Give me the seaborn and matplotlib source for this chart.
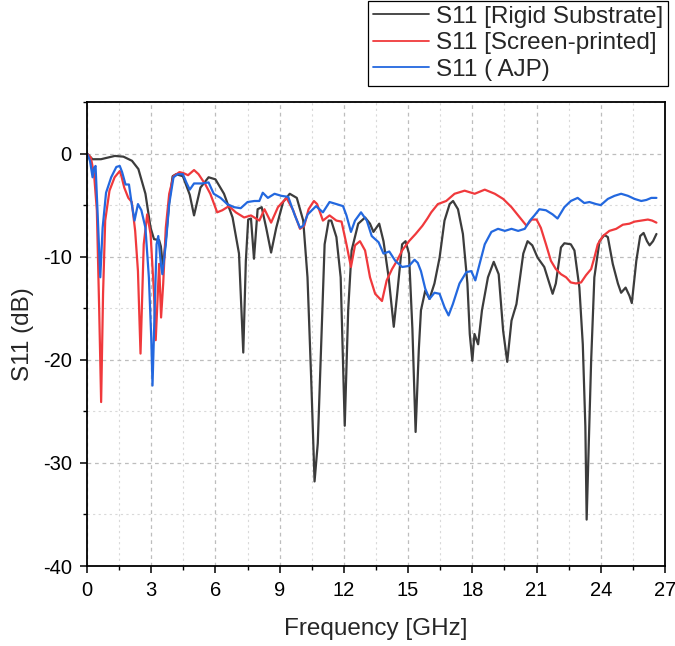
import numpy as np
import pandas as pd
import matplotlib
matplotlib.use("Agg")
import matplotlib.pyplot as plt
from matplotlib.ticker import MultipleLocator
import seaborn as sns

# ---------------- data ----------------
labels = ["S11 [Rigid Substrate]", "S11 [Screen-printed]", "S11 ( AJP)"]
colors = ["#3c3c3c", "#f0393c", "#2368df"]

freq_rigid = [0, 0.26, 0.65, 1.3, 1.7, 2.1, 2.4, 2.73, 2.97, 3.13, 3.37, 3.45, 3.55, 3.7, 3.85,
              4.0, 4.16, 4.48, 4.8, 5.0, 5.3, 5.68, 6.0, 6.4, 6.8, 7.1, 7.3, 7.42, 7.53, 7.66,
              7.8, 7.97, 8.16, 8.37, 8.6, 8.84, 9.16, 9.47, 9.8, 10.1, 10.3, 10.47, 10.63, 10.78,
              10.94, 11.1, 11.29, 11.41, 11.65, 11.85, 12.04, 12.2, 12.36, 12.67, 12.99, 13.22,
              13.38, 13.65, 13.85, 14.09, 14.33, 14.49, 14.72, 14.88, 15.04, 15.2, 15.35, 15.5,
              15.6, 15.8, 16.0, 16.23, 16.47, 16.7, 16.94, 17.1, 17.33, 17.56, 17.77, 17.88, 18.0,
              18.1, 18.27, 18.45, 18.73, 19.0, 19.23, 19.44, 19.63, 19.83, 20.06, 20.38, 20.58,
              20.8, 21.05, 21.36, 21.6, 21.75, 21.9, 22.14, 22.3, 22.6, 22.77, 23.0, 23.16, 23.28,
              23.34, 23.44, 23.55, 23.7, 23.94, 24.17, 24.33, 24.56, 24.8, 24.95, 25.16, 25.34,
              25.45, 25.66, 25.84, 26.0, 26.16, 26.28, 26.44, 26.6]
s11_rigid = [0, -0.55, -0.55, -0.23, -0.3, -0.7, -1.5, -3.9, -7.2, -8.3, -8.4, -9.0, -11.0, -8.0, -4.5,
             -2.2, -2.0, -2.2, -4.0, -6.0, -3.3, -2.3, -2.5, -3.9, -6.2, -9.7, -19.3, -10.4, -6.4, -6.3,
             -10.2, -5.4, -5.2, -7.2, -9.6, -7.2, -4.7, -3.9, -4.3, -6.5, -12.0, -21.7, -31.8, -28.1,
             -18.5, -8.8, -6.5, -6.5, -8.1, -12.0, -26.4, -15.2, -9.4, -6.8, -6.2, -6.8,
             -7.6, -6.8, -8.5, -12.0, -16.8, -13.6, -8.8, -8.5, -9.7, -17.0, -27.0, -19.0,
             -15.2, -13.3, -14.1, -12.6, -10.1, -6.5, -4.9, -4.6, -5.4, -7.8, -12.6, -17.5, -20.1,
             -17.5, -18.5, -15.2, -12.0, -10.5, -11.7, -17.2, -20.2, -16.2, -14.6, -9.7, -8.5,
             -8.9, -10.1, -11.0, -12.6, -13.6, -12.6, -9.1, -8.7, -8.8, -9.4, -13.0, -18.5, -26.5,
             -35.5, -28.1, -20.1, -12.0, -8.5, -7.9, -8.1, -10.7, -12.6, -13.5, -13.0, -13.8,
             -14.5, -10.4, -8.0, -7.7, -8.5, -8.9, -8.5, -7.8]

freq_screen = [0, 0.18, 0.33, 0.46, 0.57, 0.66, 0.75, 0.85, 1.05, 1.29, 1.53, 1.61, 1.74, 1.93, 2.09,
               2.25, 2.38, 2.5, 2.65, 2.81, 2.97, 3.13, 3.21, 3.32, 3.37, 3.46, 3.56, 3.68, 3.84,
               4.04, 4.32, 4.51, 4.72, 5.0, 5.21, 5.53, 5.76, 6.08, 6.32, 6.63, 6.95, 7.34, 7.66,
               8.05, 8.29, 8.6, 8.92, 9.32, 9.63, 9.95, 10.15, 10.35, 10.6, 10.75, 11.02, 11.33,
               11.65, 11.89, 12.12, 12.33, 12.52, 12.75, 12.99, 13.22, 13.46, 13.78, 14.0, 14.25,
               14.48, 14.72, 15.04, 15.35, 15.67, 15.9, 16.08, 16.39, 16.78, 17.17, 17.64, 18.11,
               18.58, 19.05, 19.44, 19.83, 20.14, 20.53, 20.77, 21.0, 21.2, 21.44, 21.67, 21.9,
               22.14, 22.38, 22.6, 22.84, 23.08, 23.31, 23.55, 23.7, 23.86, 24.1, 24.4, 24.72,
               25.03, 25.34, 25.58, 25.89, 26.2, 26.4, 26.6]
s11_screen = [0, -0.4, -2.0, -5.5, -15.2, -24.1, -13.6, -6.5, -3.6, -2.3, -1.7, -2.2, -3.3, -4.3, -4.7,
              -7.5, -11.4, -19.4, -8.8, -5.9, -7.8, -13.6, -18.1, -13.0, -10.7, -15.9, -12.6, -7.2, -3.9,
              -2.2, -1.8, -1.9, -2.1, -1.6, -2.0, -3.0, -3.9, -5.7, -5.5, -5.1, -5.7, -6.2, -6.0,
              -6.5, -5.4, -6.7, -5.2, -4.3, -5.5, -7.3, -7.0, -5.4, -4.6, -4.9, -6.5, -6.0,
              -6.5, -6.6, -8.8, -11.0, -8.9, -8.5, -9.4, -12.0, -13.6, -14.3, -12.3, -11.2,
              -10.4, -9.4, -8.5, -7.8, -7.0, -6.3, -5.7, -4.9, -4.6, -3.9, -3.6, -3.9,
              -3.5, -3.9, -4.4, -5.2, -6.0, -7.0, -6.4, -6.4, -7.2, -8.8, -10.4, -11.2,
              -11.7, -12.0, -12.5, -12.6, -12.5, -11.8, -11.2, -10.1, -8.8, -8.0, -7.5, -7.3,
              -6.9, -6.8, -6.6, -6.5, -6.4, -6.5, -6.7]

freq_ajp = [0, 0.14, 0.26, 0.33, 0.4, 0.5, 0.62, 0.73, 0.89, 1.13, 1.37, 1.53, 1.64, 1.8, 1.96,
            2.09, 2.22, 2.38, 2.54, 2.73, 2.89, 3.0, 3.06, 3.16, 3.25, 3.33, 3.45, 3.52, 3.68,
            3.84, 4.04, 4.24, 4.48, 4.64, 4.8, 5.0, 5.37, 5.68, 5.92, 6.24, 6.55, 6.87, 7.18,
            7.5, 7.82, 8.05, 8.21, 8.45, 8.76, 9.08, 9.4, 9.71, 9.95, 10.1, 10.31, 10.7, 11.02,
            11.33, 11.65, 11.96, 12.12, 12.33, 12.52, 12.8, 13.07, 13.3, 13.62, 13.85, 14.12,
            14.4, 14.72, 15.04, 15.3, 15.45, 15.6, 15.8, 16.0, 16.23, 16.47, 16.7, 16.89, 17.09,
            17.4, 17.72, 17.95, 18.14, 18.34, 18.58, 18.89, 19.2, 19.52, 19.83, 20.14, 20.45,
            20.69, 20.9, 21.13, 21.44, 21.75, 21.98, 22.3, 22.6, 22.92, 23.23, 23.47, 23.78,
            24.0, 24.33, 24.64, 24.95, 25.27, 25.58, 25.89, 26.13, 26.36, 26.6]
s11_ajp = [0, -0.7, -2.3, -1.4, -1.2, -6.0, -12.0, -7.2, -3.8, -2.3, -1.3, -1.2, -1.8, -3.0, -3.0,
           -4.9, -6.5, -4.9, -5.5, -7.2, -12.0, -17.8, -22.5, -15.2, -8.8, -8.0, -10.7, -11.7, -8.8,
           -4.9, -2.3, -2.0, -2.0, -2.8, -3.5, -2.9, -2.9, -2.8, -3.9, -4.3, -4.9, -5.2, -5.3,
           -4.7, -4.6, -4.6, -3.8, -4.3, -3.9, -4.1, -4.2, -6.0, -7.2, -7.0, -5.9, -5.1, -5.7,
           -4.7, -4.9, -5.1, -6.0, -7.6, -6.5, -5.7, -6.5, -8.0, -8.6, -9.7, -9.5,
           -10.4, -11.0, -10.9, -10.3, -10.6, -11.4, -13.1, -14.1, -13.5, -13.6, -14.9, -15.7, -14.6,
           -12.6, -11.5, -11.4, -12.3, -10.7, -8.8, -7.6, -7.3, -7.5, -7.3, -7.5, -7.3,
           -6.5, -6.0, -5.4, -5.5, -5.9, -6.3, -5.2, -4.6, -4.3, -4.8, -4.7, -4.9,
           -5.0, -4.4, -4.1, -3.9, -4.1, -4.4, -4.6, -4.5, -4.3, -4.3]

x_ticks = [0, 3, 6, 9, 12, 15, 18, 21, 24, 27]
y_ticks = [-40, -30, -20, -10, 0]

# ---------------- build long table ----------------
df = pd.concat([
    pd.DataFrame({"Frequency": freq_rigid, "S11": s11_rigid, "Series": labels[0]}),
    pd.DataFrame({"Frequency": freq_screen, "S11": s11_screen, "Series": labels[1]}),
    pd.DataFrame({"Frequency": freq_ajp, "S11": s11_ajp, "Series": labels[2]}),
], ignore_index=True)

sns.set_theme(style="ticks")
plt.rcParams["font.family"] = ["Liberation Sans", "DejaVu Sans"]
plt.rcParams["axes.unicode_minus"] = False

fig = plt.figure(figsize=(6.75, 6.46), dpi=100)
ax = fig.add_axes([87 / 675, 1 - 566 / 646, (665 - 87) / 675, (566 - 102) / 646])

sns.lineplot(data=df, x="Frequency", y="S11", hue="Series", hue_order=labels,
             palette=dict(zip(labels, colors)), sort=False, estimator=None,
             linewidth=1.6, ax=ax, legend=False)

ax.set_xlim(0, 27)
ax.set_ylim(-40, 5)
ax.set_xticks(x_ticks)
ax.set_yticks(y_ticks)
ax.xaxis.set_minor_locator(MultipleLocator(1.5))
ax.yaxis.set_minor_locator(MultipleLocator(5))

ax.grid(which="major", color="#bdbdbd", linestyle=(0, (3, 3)), linewidth=0.9)
ax.grid(which="minor", color="#d9d9d9", linestyle=(0, (2, 3)), linewidth=0.8)
ax.set_axisbelow(True)

for s in ax.spines.values():
    s.set_visible(True)
    s.set_color("black")
    s.set_linewidth(1.3)

ax.tick_params(which="major", direction="out", length=5, width=1.1, labelsize=14.5,
               colors="black", pad=6)
ax.tick_params(which="minor", direction="out", length=3, width=1.0, colors="black")

ax.set_xlabel("Frequency [GHz]", fontsize=17.5, labelpad=13)
ax.set_ylabel("S11 (dB)", fontsize=17.5, labelpad=6)

handles = [plt.Line2D([], [], color=c, lw=1.3) for c in colors]
leg = fig.legend(handles, labels, loc="upper right",
                 bbox_to_anchor=(668 / 675, 1 - 1 / 646), fontsize=17.5,
                 frameon=True, fancybox=False, edgecolor="black", framealpha=1,
                 borderpad=0.2, labelspacing=0.18, handlelength=2.3, handletextpad=0.3,
                 borderaxespad=0)
leg.get_frame().set_linewidth(0.9)

fig.savefig("out.png", dpi=100)
